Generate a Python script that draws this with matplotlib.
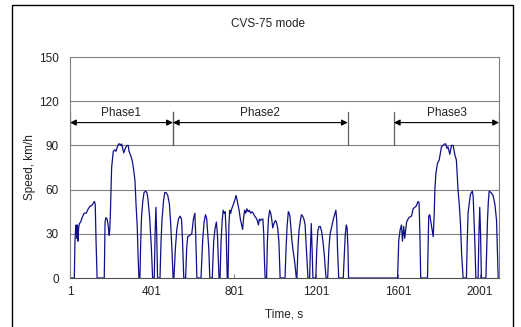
import matplotlib
matplotlib.use("Agg")
import matplotlib.pyplot as plt
from matplotlib.patches import Rectangle

plt.rcParams['font.family'] = ['Liberation Sans', 'DejaVu Sans']

# speed trace (time in s, speed in km/h)
p1_time = [1, 22, 25, 28, 31, 34, 37, 40, 43, 47, 53, 60, 70, 80, 90, 100, 107, 115, 120, 124,
           128, 133, 168, 172, 176, 182, 187, 192, 195, 198, 201, 204, 212, 220, 225, 232, 238,
           243, 248, 253, 258, 263, 268, 274, 280, 285, 289, 297, 304, 310, 318, 323, 329, 333,
           337, 342, 346, 350, 356, 362, 370, 376, 380, 385, 390, 398, 404, 412, 416, 420, 424,
           428, 440, 445, 450, 457, 463, 470, 478, 486, 492, 498, 504]
p1_speed = [0, 0, 24, 33, 36, 27, 36, 25, 34, 37, 38, 41, 44, 44, 47, 49, 49, 51, 52, 50,
            25, 0, 0, 38, 41, 40, 36, 29, 33, 44, 60, 75, 86, 87, 86, 89, 91,
            91, 90, 91, 88, 85, 87, 89, 90, 90, 86, 83, 80, 75, 66, 50, 35, 15,
            0, 0, 25, 42, 52, 58, 59, 58, 55, 48, 40, 20, 0, 0, 30, 48, 30,
            0, 0, 25, 40, 52, 58, 58, 56, 50, 37, 20, 0]

p2_time = [508, 515, 522, 530, 538, 545, 550, 556,
           565, 570, 575, 585, 595, 603, 610, 614, 620,
           640, 648, 655, 662, 668, 673, 678, 683,
           695, 702, 708, 715, 720, 725, 728,
           733, 738, 743, 748, 753, 758, 763, 768,
           772, 776, 780, 785, 790, 798, 805, 811, 816, 820, 826, 832, 838, 843, 848, 853,
           858, 864, 870, 876, 882, 888, 895, 902, 908, 915, 920, 925, 930, 936, 942, 946,
           950, 953,
           960, 964, 969, 975, 980, 985, 990, 996, 1003, 1008, 1014, 1020, 1026,
           1050, 1055, 1060, 1066, 1070, 1074, 1078, 1084, 1090, 1098, 1105,
           1108, 1113, 1118, 1124, 1130, 1136, 1142, 1148, 1152, 1158, 1162,
           1170, 1174, 1178, 1182, 1186,
           1200, 1205, 1210, 1216, 1222, 1228, 1235, 1242, 1250,
           1258, 1264, 1270, 1278, 1286, 1292, 1298, 1302, 1306, 1312,
           1334, 1339, 1344, 1349, 1353, 1357, 1360]
p2_speed = [0, 20, 33, 40, 42, 40, 25, 0,
            0, 20, 28, 29, 30, 40, 44, 30, 0,
            0, 25, 38, 43, 40, 30, 20, 0,
            0, 25, 33, 38, 30, 10, 0,
            0, 25, 38, 46, 44, 45, 30, 0,
            0, 35, 46, 44, 47, 50, 53, 56, 53, 50, 46, 40, 36, 33, 41, 46,
            44, 47, 45, 46, 44, 45, 44, 42, 41, 39, 36, 40, 39, 40, 40, 30,
            10, 0,
            0, 25, 40, 46, 44, 40, 34, 37, 39, 38, 34, 25, 0,
            0, 20, 35, 45, 44, 42, 35, 25, 18, 10, 0,
            0, 20, 32, 38, 43, 42, 40, 36, 25, 10, 0,
            0, 20, 37, 20, 0,
            0, 20, 32, 35, 35, 32, 25, 15, 0,
            0, 20, 30, 35, 40, 43, 46, 40, 20, 0,
            0, 15, 30, 36, 34, 20, 0]

p3_time = [1599, 1605, 1612, 1618, 1623, 1629, 1634, 1643, 1654, 1667, 1675, 1691, 1699, 1704,
           1708, 1712, 1745, 1751, 1756, 1765, 1773, 1778, 1781, 1786, 1794, 1802, 1813, 1821,
           1828, 1834, 1840, 1845, 1854, 1862, 1870, 1878, 1886, 1894, 1900, 1906, 1912, 1919,
           1935, 1939, 1943, 1950, 1955, 1964, 1968, 1971, 1976, 1981,
           1992, 1996, 2000, 2004, 2008,
           2030, 2034, 2038, 2042, 2046, 2055, 2065, 2074, 2082, 2086, 2090]
p3_speed = [0, 26, 33, 36, 25, 35, 27, 38, 41, 42, 47, 49, 52, 51,
            30, 0, 0, 42, 43, 35, 28, 44, 60, 71, 78, 80, 89, 90,
            91, 91, 88, 89, 84, 90, 90, 84, 80, 60, 50, 37, 15, 0,
            0, 25, 44, 52, 57, 59, 55, 44, 25, 0,
            0, 30, 48, 30, 0,
            0, 20, 40, 52, 59, 58, 56, 50, 39, 20, 0]

phase_names = ['Phase1', 'Phase2', 'Phase3']
phase_start = [1, 503, 1581]
phase_end = [503, 1356, 2094]

time = p1_time + p2_time + p3_time
speed = p1_speed + p2_speed + p3_speed

fig = plt.figure(figsize=(5.21, 3.27), dpi=100)
ax = fig.add_axes([0.1344, 0.1498, 0.8234, 0.6758])

for y in [30, 60, 90, 120]:
    ax.axhline(y, color='#808080', lw=0.8, zorder=1)

ax.plot(time, speed, color='#10108a', lw=0.9, zorder=2)

for name, s, e in zip(phase_names, phase_start, phase_end):
    ax.plot([s, s], [90, 113], color='#606060', lw=0.9, zorder=2)
    ax.plot([e, e], [90, 113], color='#606060', lw=0.9, zorder=2)
    ax.annotate('', xy=(e, 105.5), xytext=(s, 105.5),
                arrowprops=dict(arrowstyle='<|-|>', color='black', lw=0.8,
                                mutation_scale=9, shrinkA=0, shrinkB=0))
    ax.text((s + e) / 2, 112, name, ha='center', va='center', fontsize=8.5, color='#222222')

ax.set_xlim(1, 2094)
ax.set_ylim(0, 150)
ax.set_xticks([1, 401, 801, 1201, 1601, 2001])
ax.set_yticks([0, 30, 60, 90, 120, 150])
ax.tick_params(axis='x', direction='in', length=3, color='#808080', labelsize=8.5,
               labelcolor='#222222', pad=6)
ax.tick_params(axis='y', length=0, labelsize=8.5, labelcolor='#222222', pad=8)
for sp in ax.spines.values():
    sp.set_color('#808080')
    sp.set_linewidth(0.8)
    sp.set_zorder(4)
ax.spines['bottom'].set_color('#505050')

ax.set_xlabel('Time, s', fontsize=8.5, color='#222222', labelpad=7)
ax.set_ylabel('Speed, km/h', fontsize=8.5, color='#222222', labelpad=2)
fig.text(0.514, 0.928, 'CVS-75 mode', ha='center', va='center', fontsize=8.5, color='#222222')

fig.patches.append(Rectangle((0.023, -0.05), 0.962, 1.035, transform=fig.transFigure,
                             fill=False, edgecolor='black', lw=1.0))

fig.savefig('out.png', dpi=100)
